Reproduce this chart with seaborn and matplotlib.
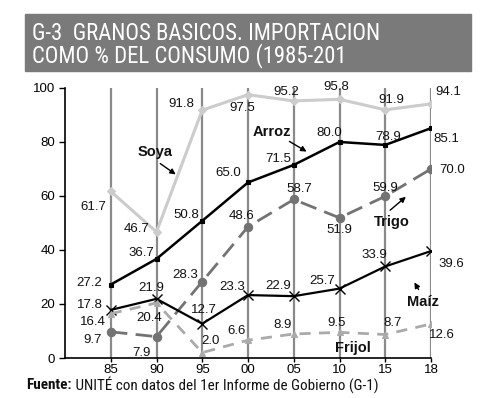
import matplotlib
matplotlib.use("Agg")
import matplotlib.pyplot as plt
import matplotlib.patches as mpatches
from matplotlib import font_manager
import seaborn as sns
import pandas as pd

years = ["85", "90", "95", "00", "05", "10", "15", "18"]
soya = [61.7, 46.7, 91.8, 97.5, 95.2, 95.8, 91.9, 94.1]
arroz = [27.2, 36.7, 50.8, 65.0, 71.5, 80.0, 78.9, 85.1]
trigo = [9.7, 7.9, 28.3, 48.6, 58.7, 51.9, 59.9, 70.0]
maiz = [17.8, 21.9, 12.7, 23.3, 22.9, 25.7, 33.9, 39.6]
frijol = [16.4, 20.4, 2.0, 6.6, 8.9, 9.5, 8.7, 12.6]
yticks = [0, 20, 40, 60, 80, 100]

sns.set_theme(style="white")
plt.rcParams['font.family'] = ['Liberation Sans', 'DejaVu Sans']

def find_cond(bold=False):
    cands = []
    for f in font_manager.fontManager.ttflist:
        fn = f.fname.split("/")[-1]
        if ("Condensed" in fn or "Narrow" in fn) and "Oblique" not in fn and "Italic" not in fn:
            isb = "Bold" in fn
            if isb == bold and "Light" not in fn and "Semi" not in fn and "Extra" not in fn:
                cands.append(f.fname)
    pref = ["LiberationSansNarrow", "RobotoCondensed", "DejaVuSansCondensed"]
    for p in pref:
        for c in cands:
            if p in c:
                return font_manager.FontProperties(fname=c), True
    if cands:
        return font_manager.FontProperties(fname=cands[0]), True
    return font_manager.FontProperties(family="Roboto", weight="bold" if bold else "medium"), False

fp_reg, cond = find_cond(False)
fp_bold, _ = find_cond(True)
fp_src, _ = (fp_reg, cond) if cond else (font_manager.FontProperties(family="Roboto", weight="normal"), False)

fig = plt.figure(figsize=(5.0, 3.98), dpi=100)
ax = fig.add_axes([0.13, 0.1005, 0.732, 0.6785])
H = 398

pos = list(range(len(years)))
df = pd.DataFrame({"pos": pos, "Soya": soya, "Arroz": arroz, "Trigo": trigo,
                   "Maíz": maiz, "Frijol": frijol})

for p in pos:
    ax.axvline(p, color="#8a8a8a", lw=1.6, zorder=1)

styles = {
    "Soya": dict(color="#cccccc", marker="D", markersize=4, lw=2.2, linestyle="-"),
    "Arroz": dict(color="#000000", marker="s", markersize=3, lw=1.8, linestyle="-"),
    "Trigo": dict(color="#737373", marker="o", markersize=6, lw=2.0, linestyle=(0, (6, 3))),
    "Maíz": dict(color="#000000", marker="x", markersize=7, lw=1.6, linestyle="-", markeredgewidth=1.0),
    "Frijol": dict(color="#aaaaaa", marker="^", markersize=5, lw=2.0, linestyle=(0, (4, 3))),
}
for name, st in styles.items():
    st = dict(st)
    st.setdefault("markeredgewidth", 0.8)
    sns.lineplot(data=df, x="pos", y=name, ax=ax, zorder=3,
                 markeredgecolor=st["color"], **st)

offsets = {
    "Soya": [(-17, -16), (-20, 3), (-21, 6), (-6, -13), (-7, 9), (-3, 12), (6, 10), (17, 12)],
    "Arroz": [(-22, 2), (-15, 6), (-16, 6), (-20, 9), (-16, 6), (-10, 9), (3, 8), (15, -11)],
    "Trigo": [(-18, -8), (-15, -16), (-17, 7), (-6, 11), (6, 10), (0, -12), (0, 8), (21, -1)],
    "Maíz": [(-21, 5), (-5, 11), (2, 14), (-16, 8), (-16, 10), (-17, 8), (-11, 11), (20, -13)],
    "Frijol": [(-18, -8), (-7, -15), (8, 12), (-11, 9), (-11, 9), (-3, 9), (7, 12), (11, -11)],
}
series = {"Soya": soya, "Arroz": arroz, "Trigo": trigo, "Maíz": maiz, "Frijol": frijol}
for name, vals in series.items():
    for p, v, off in zip(pos, vals, offsets[name]):
        ax.annotate(f"{v:.1f}", (p, v), xytext=off, textcoords="offset pixels",
                    ha="center", va="center", fontsize=9.5, color="#111111", zorder=5)

def lab(text, xy_txt, tail=None, head=None):
    ax.annotate(text, xy=xy_txt, xycoords="figure pixels", ha="center", va="center",
                fontsize=10.5, fontweight="bold", color="#111111", zorder=6)
    if tail is not None:
        ax.annotate("", xy=head, xytext=tail, xycoords="figure pixels", textcoords="figure pixels",
                    arrowprops=dict(arrowstyle="-|>", color="black", lw=1.0, mutation_scale=8), zorder=6)

lab("Soya", (155, H - 152), (158, H - 162), (178, H - 176))
lab("Arroz", (272, H - 132), (287, H - 140), (309, H - 153))
lab("Trigo", (392, H - 222), (388, H - 212), (408, H - 195))
lab("Maíz", (423, H - 302), (420, H - 292), (413, H - 280))
lab("Frijol", (353, H - 348))

ax.set_xlim(-1, 7)
ax.set_ylim(0, 100)
ax.set_xticks(pos)
ax.set_xticklabels(years)
ax.set_yticks(yticks)
ax.set_yticklabels([str(t) for t in yticks])
ax.set_xlabel("")
ax.set_ylabel("")
ax.tick_params(axis="both", which="major", labelsize=9.5, colors="black", length=4,
               width=1, direction="out", pad=3)
ax.tick_params(axis="x", length=3, pad=1)
ax.tick_params(axis="both", bottom=True, left=True)
for s in ["top", "right"]:
    ax.spines[s].set_visible(False)
for s in ["left", "bottom"]:
    ax.spines[s].set_color("black")
    ax.spines[s].set_linewidth(1.2)
ax.grid(False)
ax.set_facecolor("white")
if ax.get_legend():
    ax.get_legend().remove()

# title box
fig.patches.append(mpatches.Rectangle((25 / 500, 1 - 71 / H), 446 / 500, 57 / H,
                                      transform=fig.transFigure, color="#7a7a7a", zorder=0))
renderer = fig.canvas.get_renderer()

def width_px(t):
    return t.get_window_extent(renderer).width

t1 = fig.text(32 / 500, 1 - 33.5 / H, "G-3  GRANOS BASICOS. IMPORTACION", fontproperties=fp_reg,
              fontsize=17, color="white", va="center", ha="left")
t2 = fig.text(32 / 500, 1 - 55.5 / H, "COMO % DEL CONSUMO (1985-201", fontproperties=fp_reg,
              fontsize=17, color="white", va="center", ha="left")
target = 350 if cond else 395
fs = 17 * target / width_px(t1)
t1.set_fontsize(fs)
t2.set_fontsize(fs)

s1 = fig.text(26 / 500, 1 - 385 / H, "Fuente:", fontproperties=fp_bold,
              fontsize=11, color="#111111", va="center", ha="left")
s2 = fig.text(0, 1 - 385 / H, " UNITÉ con datos del 1er Informe de Gobierno (G-1)", fontproperties=fp_src,
              fontsize=11, color="#111111", va="center", ha="left")
tot = width_px(s1) + width_px(s2)
target2 = 352 if cond else 375
fs2 = 11 * target2 / tot
s1.set_fontsize(fs2)
s2.set_fontsize(fs2)
w1 = width_px(s1)
s2.set_x((26 + w1) / 500)

fig.savefig("out.png", dpi=100)
